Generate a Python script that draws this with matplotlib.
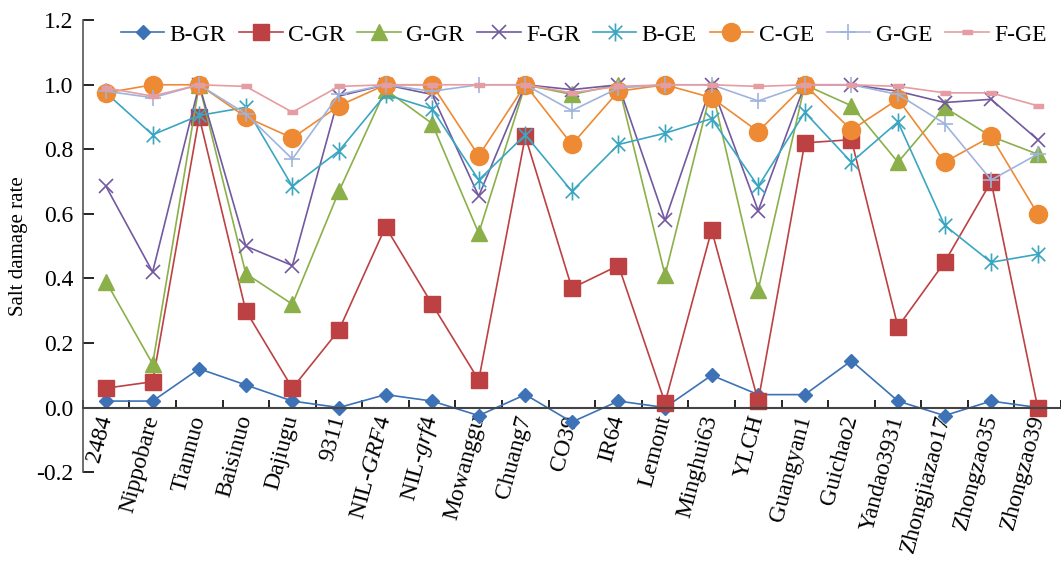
import matplotlib
matplotlib.use("Agg")
import matplotlib.pyplot as plt
import numpy as np
from matplotlib.path import Path

plt.rcParams["font.family"] = ["Liberation Serif", "DejaVu Serif"]
plt.rcParams["mathtext.fontset"] = "custom"
plt.rcParams["mathtext.rm"] = "Liberation Serif"
plt.rcParams["mathtext.it"] = "Liberation Serif:italic"

# Cultivars (x axis)
cultivars = ["2484", "Nippobare", "Tiannuo", "Baisinuo", "Dajiugu", "9311",
             r"NIL-$\mathit{GRF4}$", r"NIL-$\mathit{grf4}$", "Mowanggu", "Chuang7",
             "CO39", "IR64", "Lemont", "Minghui63", "YLCH", "Guangyan1",
             "Guichao2", "Yandao3931", "Zhongjiazao17", "Zhongzao35", "Zhongzao39"]

# Salt damage rate per series
b_gr = [0.02, 0.02, 0.12, 0.07, 0.02, 0.00, 0.04, 0.02, -0.025, 0.04, -0.045,
        0.02, 0.00, 0.10, 0.04, 0.04, 0.145, 0.02, -0.025, 0.02, 0.00]
c_gr = [0.06, 0.08, 0.90, 0.30, 0.06, 0.24, 0.56, 0.32, 0.085, 0.84, 0.37,
        0.44, 0.015, 0.55, 0.02, 0.82, 0.83, 0.25, 0.45, 0.70, 0.00]
g_gr = [0.39, 0.135, 1.00, 0.415, 0.32, 0.67, 0.985, 0.88, 0.54, 1.00, 0.97,
        1.00, 0.41, 0.99, 0.365, 1.00, 0.935, 0.76, 0.93, 0.84, 0.785]
f_gr = [0.685, 0.42, 1.00, 0.50, 0.44, 0.965, 1.00, 0.97, 0.655, 1.00, 0.985,
        1.00, 0.58, 1.00, 0.61, 1.00, 1.00, 0.98, 0.945, 0.955, 0.83]
b_ge = [0.975, 0.845, 0.905, 0.93, 0.685, 0.795, 0.97, 0.925, 0.705, 0.845, 0.67,
        0.815, 0.85, 0.895, 0.685, 0.915, 0.76, 0.885, 0.565, 0.45, 0.475]
c_ge = [0.975, 1.00, 1.00, 0.90, 0.835, 0.935, 1.00, 1.00, 0.78, 1.00, 0.815,
        0.98, 1.00, 0.96, 0.855, 1.00, 0.86, 0.955, 0.76, 0.84, 0.60]
g_ge = [0.98, 0.96, 1.00, 0.91, 0.77, 0.97, 1.00, 0.98, 1.00, 1.00, 0.92,
        0.99, 1.00, 1.00, 0.95, 1.00, 1.00, 0.97, 0.88, 0.705, 0.785]
f_ge = [0.99, 0.965, 1.00, 0.995, 0.915, 0.995, 1.00, 1.00, 1.00, 1.00, 0.975,
        0.995, 1.00, 1.00, 0.995, 1.00, 1.00, 0.995, 0.975, 0.975, 0.935]

series_names = ["B-GR", "C-GR", "G-GR", "F-GR", "B-GE", "C-GE", "G-GE", "F-GE"]
series_values = [b_gr, c_gr, g_gr, f_gr, b_ge, c_ge, g_ge, f_ge]

# Excel-like asterisk: x plus a vertical bar
asterisk = Path([(0, -1), (0, 1), (-0.75, -0.75), (0.75, 0.75), (-0.75, 0.75), (0.75, -0.75)],
                [Path.MOVETO, Path.LINETO] * 3)
dash = [(-1, -0.4), (1, -0.4), (1, 0.4), (-1, 0.4)]

styles = [
    dict(color="#3d72b6", marker="D", ms=7),
    dict(color="#bd4142", marker="s", ms=11),
    dict(color="#8bb04a", marker="^", ms=11),
    dict(color="#7259a0", marker="x", ms=10, mew=1.2),
    dict(color="#3aa6c2", marker=asterisk, ms=13, mew=1.2),
    dict(color="#ee8a34", marker="o", ms=13),
    dict(color="#9fb4dd", marker="+", ms=12, mew=1.2),
    dict(color="#e59ca2", marker=dash, ms=7),
]

fig = plt.figure(figsize=(10.61, 5.62), dpi=100)
ax = fig.add_axes([0.078, 0.160, 0.922, 0.804])

x = np.arange(len(cultivars))
for name, vals, st in zip(series_names, series_values, styles):
    ax.plot(x, vals, label=name, lw=1.2, color=st["color"], marker=st["marker"],
            ms=st["ms"], mew=st.get("mew", 1.0), mec=st["color"], mfc=st["color"])

ax.set_xlim(-0.5, len(cultivars) - 0.5)
ax.set_ylim(-0.2, 1.2)
ax.set_yticks(np.arange(-0.2, 1.21, 0.2))
ax.yaxis.set_major_formatter(matplotlib.ticker.FormatStrFormatter("%.1f"))
ax.tick_params(axis="y", direction="in", length=8, width=1.2, labelsize=17, pad=7)
ax.set_ylabel("Salt damage rate", fontsize=15)
ax.yaxis.set_label_coords(-0.056, 0.5)

ax.spines["top"].set_visible(False)
ax.spines["right"].set_visible(False)
ax.spines["bottom"].set_position(("data", 0))
ax.spines["left"].set_linewidth(1.2)
ax.spines["bottom"].set_linewidth(1.5)
ax.spines["left"].set_color("#555555")
ax.spines["bottom"].set_color("#444444")

ax.set_xticks(x)
ax.set_xticklabels(cultivars, rotation=75, ha="right", va="center",
                   rotation_mode="anchor", fontsize=17)
ax.set_xticks(np.arange(-0.5, len(cultivars), 1.0), minor=True)
ax.tick_params(axis="x", which="major", length=0, pad=6)
ax.tick_params(axis="x", which="minor", direction="in", length=6, width=1.2)

ax.legend(loc="center", bbox_to_anchor=(0.550, 0.938), bbox_transform=fig.transFigure,
          ncol=8, frameon=False, fontsize=17, handlelength=1.85, handletextpad=0.22,
          columnspacing=0.55, borderaxespad=0, borderpad=0)

fig.savefig("out.png", dpi=100)
